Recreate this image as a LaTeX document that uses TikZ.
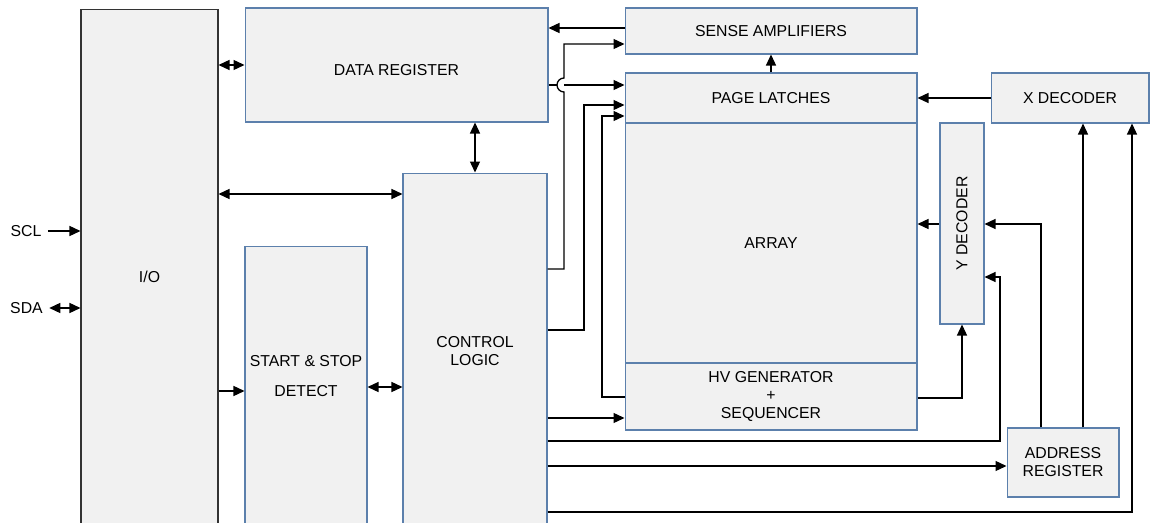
\documentclass[tikz,border=0pt]{standalone}
\usepackage{fontspec}
\setmainfont{Liberation Sans}
\usepackage{graphicx}
\usetikzlibrary{arrows.meta,calc}
\definecolor{blkblue}{RGB}{92,128,172}
\definecolor{blkfill}{RGB}{241,241,241}
\definecolor{blkdark}{RGB}{51,51,51}
\tikzstyle{blk}=[draw=blkblue, fill=blkfill, line width=0.6pt, inner sep=0pt, align=center, font=\fontsize{9}{10.25}\selectfont]
\tikzstyle{lbl}=[inner sep=0pt, align=center, font=\fontsize{9}{10.25}\selectfont]
\tikzstyle{wire}=[line width=0.75pt]

\begin{document}
\begin{tikzpicture}[x=0.02cm, y=-0.02cm, >={Triangle[length=2.2mm,width=2mm]}]
\useasboundingbox (0,0) rectangle (1151,523);
\clip (0,0) rectangle (1151,523);
\node[blk, draw=blkdark, minimum width=2.74cm, minimum height=10.72cm] (IO) at (149.5,277) {I/O};
\node[blk, minimum width=6.06cm, minimum height=2.28cm] (DR) at (396.5,65) {};
\node[lbl] (DRt) at ($(DR)+(0,5)$) {DATA REGISTER};
\node[blk, minimum width=2.88cm, minimum height=7.12cm] (CL) at (475,351) {CONTROL\\LOGIC};
\node[blk, minimum width=2.44cm, minimum height=5.98cm] (SS) at (306,395.5) {};
\node[lbl] (SSt) at ($(SS)+(0,-19.5)$) {START \& STOP\\[6.8pt]DETECT};
\node[blk, minimum width=5.84cm, minimum height=0.92cm] (SA) at (771,31) {SENSE AMPLIFIERS};
\node[blk, minimum width=5.84cm, minimum height=1cm] at ($(SA)+(0,67)$) (PL) {PAGE LATCHES};
\node[blk, minimum width=5.84cm, minimum height=4.8cm] at ($(PL)+(0,145)$) (Arr) {ARRAY};
\node[blk, minimum width=5.84cm, minimum height=1.34cm] at ($(Arr)+(0,153.5)$) (HV) {HV GENERATOR\\+\\SEQUENCER};
\node[blk, minimum width=3.16cm, minimum height=1cm] at ($(PL)+(299,0)$) (XD) {X DECODER};
\node[blk, minimum width=0.88cm, minimum height=4.02cm] at (962,223.5) (YD) {\rotatebox{90}{Y DECODER}};
\node[blk, minimum width=2.24cm, minimum height=1.38cm] at (1063,462.5) (AR) {ADDRESS\\REGISTER};
\node[lbl, inner xsep=3.5pt] (SCL) at (26,231) {SCL};
\node[lbl, inner xsep=3.5pt] (SDA) at (26.5,308) {SDA};
% left side
\draw[wire,->] (SCL) -- (IO.west |- SCL);
\draw[wire,<->] (SDA) -- (IO.west |- SDA);
\draw[wire,<->] (IO.east |- DR.west) -- (DR.west);
\draw[wire,<->] (IO.east |- 0,194) -- (CL.west |- 0,194);
\draw[wire,->] (IO.east |- 0,391) -- (SS.west |- 0,391);
\draw[wire,<->] (SS.east |- 0,387) -- (CL.west |- 0,387);
\draw[wire,<->] (CL.north) -- (CL.north |- DR.south);
% to the array side
\draw[wire,->] (SA.west |- 0,28) -- (DR.east |- 0,28);
\draw[wire,->] (CL.east |- 0,269) -| (564,92) arc[start angle=90, end angle=270, radius=7] -- (564,44) -- (SA.west |- 0,44);
\draw[wire,->] (DR.east |- 0,85) -- (557,85) (564,85) -- (PL.west |- 0,85);
\draw[wire,->] (CL.east |- 0,330) -| (584,105) -- (PL.west |- 0,105);
\draw[wire,->] (HV.west |- 0,397) -| (602,116) -- (PL.west |- 0,116);
\draw[wire,->] (CL.east |- 0,418) -- (HV.west |- 0,418);
\draw[wire,->] (PL.north) -- (SA.south);
% decoders
\draw[wire,->] (XD.west) -- (PL.east);
\draw[wire,->] (HV.east |- 0,398) -| (YD.south);
\draw[wire,->] (YD.west |- 0,224) -- (Arr.east |- 0,224);
\draw[wire,->] (AR.north -| 1041,0) |- (YD.east |- 0,224);
\draw[wire,->] (CL.east |- 0,441) -| (1000,277) -- (YD.east |- 0,277);
\draw[wire,->] (CL.east |- 0,466) -- (AR.west |- 0,466);
\draw[wire,->] (AR.north -| 1083,0) -- (XD.south -| 1083,0);
\draw[wire,->] (CL.east |- 0,512) -| (XD.south -| 1132,0);
\end{tikzpicture}
\end{document}
